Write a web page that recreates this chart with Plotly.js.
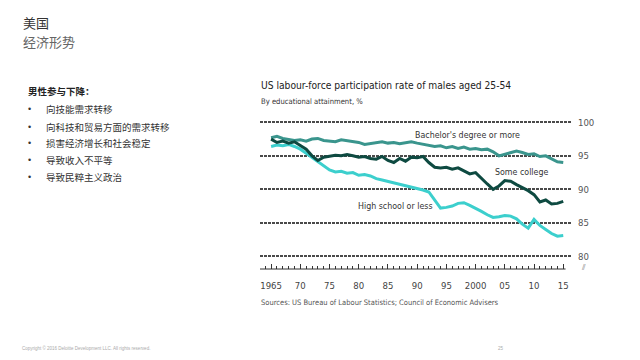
<!DOCTYPE html>
<html>
<head>
<meta charset="utf-8">
<script src="https://cdn.plot.ly/plotly-3.0.1.min.js"></script>
<style>
  html, body { margin: 0; padding: 0; background: #fff; }
  #chart { width: 640px; height: 360px; }
</style>
</head>
<body>
<div id="chart"></div>
<script>
// ---- Data ----
var years = [1965,1966,1967,1968,1969,1970,1971,1972,1973,1974,1975,1976,1977,1978,1979,
  1980,1981,1982,1983,1984,1985,1986,1987,1988,1989,1990,1991,1992,1993,1994,1995,1996,1997,1998,1999,
  2000,2001,2002,2003,2004,2005,2006,2007,2008,2009,2010,2011,2012,2013,2014,2015];

var bachelor = [97.7,97.9,97.6,97.5,97.3,97.4,97.2,97.5,97.6,97.3,97.2,97.1,97.4,97.3,97.2,
  97.0,96.7,96.8,96.9,97.1,96.9,97.0,96.8,97.0,97.1,96.9,96.7,96.6,96.4,96.5,96.2,96.4,96.1,96.3,96.0,
  96.1,95.9,96.0,95.6,95.0,95.2,95.5,95.7,95.5,95.2,95.3,94.9,95.0,94.6,94.1,94.0];

var someCollege = [97.5,97.0,97.2,96.9,97.1,96.6,96.0,95.0,94.3,94.8,95.0,95.1,95.0,95.2,95.0,
  94.8,94.9,94.6,94.5,94.9,94.3,94.0,94.6,94.2,94.8,94.7,94.9,94.0,93.3,93.2,93.3,93.0,93.2,92.8,92.3,
  92.5,91.6,90.8,90.0,90.5,91.3,91.2,90.7,90.3,89.8,89.2,88.1,88.4,87.8,87.9,88.2];

var highSchool = [96.4,96.6,96.5,96.7,96.4,96.0,95.4,94.8,94.2,93.5,92.9,92.6,92.7,92.4,92.5,
  92.1,92.2,92.0,91.6,91.4,91.2,91.0,90.8,90.6,90.4,90.1,89.9,89.6,88.4,87.2,87.3,87.5,87.9,88.0,87.6,
  87.2,86.7,86.2,85.8,85.9,86.1,86.0,85.6,84.8,84.2,85.5,84.6,84.0,83.4,83.0,83.1];

var seriesNames = ["Bachelor's degree or more", "Some college", "High school or less"];

var majorTickVals = [1965,1970,1975,1980,1985,1990,1995,2000,2005,2010,2015];
var majorTickText = ["1965","70","75","80","85","90","95","2000","05","10","15"];
var minorTickVals = [1964,1966,1967,1968,1969,1971,1972,1973,1974,1976,1977,1978,1979,
  1981,1982,1983,1984,1986,1987,1988,1989,1991,1992,1993,1994,1996,1997,1998,1999,
  2001,2002,2003,2004,2006,2007,2008,2009,2011,2012,2013,2014];
var yTickVals = [80,85,90,95,100];

var pageTitle = "美国";
var pageSubtitle = "经济形势";
var listHeader = "男性参与下降：";
var listItems = ["向技能需求转移", "向科技和贸易方面的需求转移", "损害经济增长和社会稳定", "导致收入不平等", "导致民粹主义政治"];
var chartTitle = "US labour-force participation rate of males aged 25-54";
var chartSubtitle = "By educational attainment, %";
var sourceText = "Sources: US Bureau of Labour Statistics; Council of Economic Advisers";
var copyrightText = "Copyright © 2016 Deloitte Development LLC. All rights reserved.";
var pageNumber = "25";

// ---- Layout geometry (pixels) ----
var W = 640, H = 360;
var L = 260, R = 572, T = 118, B = 269;
function px(x) { return (x - L) / (R - L); }
function py(y) { return (B - y) / (B - T); }

var narrow = "'DejaVu Sans Condensed', 'Roboto', sans-serif";
var cjk = "'Noto Sans CJK SC', 'Noto Sans', sans-serif";

var colBach = "#3a958d";
var colSome = "#0e4a41";
var colHS = "#3ccfcd";

var traces = [
  { x: years, y: bachelor, name: seriesNames[0], type: "scatter", mode: "lines",
    line: { color: colBach, width: 3 } },
  { x: years, y: highSchool, name: seriesNames[2], type: "scatter", mode: "lines",
    line: { color: colHS, width: 3 } },
  { x: years, y: someCollege, name: seriesNames[1], type: "scatter", mode: "lines",
    line: { color: colSome, width: 3 } }
];

function ann(text, x, y, opts) {
  var a = { text: text, xref: "paper", yref: "paper", x: px(x), y: py(y),
    xanchor: "left", yanchor: "middle", showarrow: false,
    font: { family: narrow, size: 10, color: "#333" } };
  for (var k in opts) a[k] = opts[k];
  return a;
}

var annotations = [
  ann(pageTitle, 21, 22, { font: { family: cjk, size: 13, color: "#333" } }),
  ann(pageSubtitle, 21, 41, { font: { family: cjk, size: 13, color: "#666" } }),
  ann("<b>" + listHeader + "</b>", 26, 91, { font: { family: cjk, size: 9.5, color: "#222" } }),
  ann(chartTitle, 259, 85, { font: { family: narrow, size: 10.2, color: "#222" } }),
  ann(chartSubtitle, 259, 102, { font: { family: narrow, size: 7.6, color: "#333" } }),
  ann(sourceText, 259, 302, { font: { family: narrow, size: 7.5, color: "#555" } }),
  ann(seriesNames[0], 413, 135, { font: { family: narrow, size: 8.8, color: "#333" } }),
  ann(seriesNames[1], 493, 172, { font: { family: narrow, size: 8.8, color: "#333" } }),
  ann(seriesNames[2], 356, 206, { font: { family: narrow, size: 8.8, color: "#333" } }),
  ann("⫽", 579, 267, { font: { family: "DejaVu Sans", size: 8, color: "#777" } }),
  ann(copyrightText, 20, 348, { font: { family: "Liberation Sans", size: 4.5, color: "#aaa" } }),
  ann(pageNumber, 496, 348, { font: { family: "Liberation Sans", size: 4.5, color: "#aaa" } })
];
var itemY = [109, 126.5, 143, 160, 177];
for (var i = 0; i < listItems.length; i++) {
  annotations.push(ann("•", 26, itemY[i], { font: { family: "Liberation Sans", size: 9, color: "#333" } }));
  annotations.push(ann(listItems[i], 44, itemY[i], { font: { family: cjk, size: 9.5, color: "#333" } }));
}

var layout = {
  width: W, height: H,
  margin: { l: L, r: W - R, t: T, b: H - B, pad: 0 },
  paper_bgcolor: "#fff", plot_bgcolor: "#fff",
  showlegend: false,
  xaxis: {
    range: [1963.1, 2016.5], showgrid: false, zeroline: false, showline: false,
    tickmode: "array", tickvals: majorTickVals, ticktext: majorTickText,
    ticks: "inside", ticklen: 5, tickwidth: 1, tickcolor: "#333",
    ticklabelstandoff: 9,
    tickfont: { family: narrow, size: 9.5, color: "#444" },
    minor: { tickmode: "array", tickvals: minorTickVals, ticks: "inside", ticklen: 3, tickwidth: 1, tickcolor: "#333", showgrid: false },
    fixedrange: true
  },
  yaxis: {
    range: [78.1, 100.65], side: "right", zeroline: false, showline: false,
    tickmode: "array", tickvals: yTickVals, ticks: "",
    showgrid: true, gridcolor: "#4a4a4a", gridwidth: 1.8, griddash: "3px,1px",
    ticklabelstandoff: 5,
    tickfont: { family: narrow, size: 9.5, color: "#555" },
    fixedrange: true
  },
  shapes: [
    { type: "line", xref: "x", yref: "paper", x0: 1963.1, x1: 2015.4, y0: 0, y1: 0,
      line: { color: "#333", width: 1 } }
  ],
  annotations: annotations
};

Plotly.newPlot("chart", traces, layout, { displayModeBar: false, staticPlot: true });
</script>
</body>
</html>
